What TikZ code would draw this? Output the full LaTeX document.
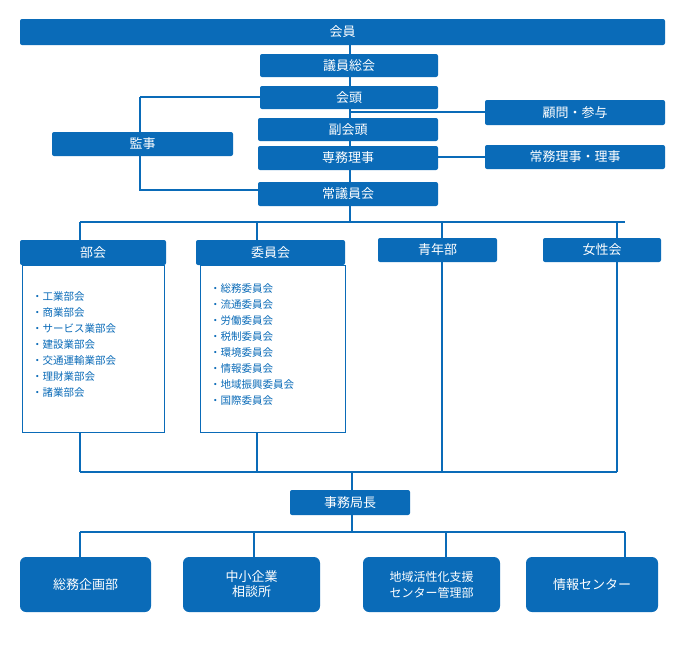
\documentclass[tikz,border=0pt]{standalone}
\usepackage{fontspec}
\setmainfont{Noto Sans CJK JP}
\usetikzlibrary{positioning}
\definecolor{orgblue}{HTML}{0A6BB8}

\begin{document}
\begin{tikzpicture}[x=1pt,y=-1pt,
    box/.style={fill=orgblue,text=white,rounded corners=2pt,inner sep=0pt,font=\fontsize{13}{15}\selectfont,align=center},
    listbox/.style={draw=orgblue,thick,fill=white,inner sep=0pt},
    items/.style={text=orgblue,font=\fontsize{10.5}{16}\selectfont,align=left,anchor=north west,inner sep=0pt},
    link/.style={orgblue,line width=1.5pt}
]
\useasboundingbox (0,0) rectangle (683,648);

% === lines first ===
\coordinate (busTop) at (350,222);
\coordinate (busMid) at (352,472);
\coordinate (busLow) at (352,532);
\draw[link] (350,45) -- (busTop);
\draw[link] (80,222) -- (625,222);
\draw[link] (80,472) -- (617,472);
\draw[link] (busMid) -- (busLow);
\draw[link] (80,532) -- (625,532);
\draw[link] (140,97) -- (140,190) -- (258,190);
\draw[link] (140,97) -- (260,97);
\draw[link] (350,112) -- (485,112);
\draw[link] (438,157) -- (485,157);
\foreach \x in {80,257,442,617} \draw[link] (\x,222) -- (\x,472);
\foreach \x in {80,254,446,625} \draw[link] (\x,532) -- (\x,557);

% === top ===
\node[box,minimum width=645,minimum height=26] (member) at (342.5,32) {会員};
\node[box,minimum width=178,minimum height=23] (assembly) at (349,65.5) {議員総会};
\node[box,minimum width=178,minimum height=23] (chair) at (349,97.5) {会頭};
\node[box,minimum width=180,minimum height=25] (advisor) at (575,112.5) {顧問・参与};
\node[box,minimum width=180,minimum height=23] (vice) at (348,129.5) {副会頭};
\node[box,minimum width=180,minimum height=24] (director) at (348,158) {専務理事};
\node[box,minimum width=180,minimum height=24] (board) at (575,157) {常務理事・理事};
\node[box,minimum width=181,minimum height=24] (auditor) at (142.5,144) {監事};
\node[box,minimum width=180,minimum height=24] (council) at (348,194) {常議員会};

% === sections ===
\node[listbox,minimum width=142,minimum height=167] (bukaiList) at (93,348.5) {};
\node[listbox,minimum width=145,minimum height=167] (iinList) at (272.5,348.5) {};
\node[box,minimum width=146,minimum height=25] (bukai) at (93,252.5) {部会};
\node[box,minimum width=149,minimum height=25] (iin) at (270.5,252.5) {委員会};
\node[box,minimum width=119,minimum height=24] (youth) at (437.5,250) {青年部};
\node[box,minimum width=118,minimum height=24] (women) at (602,250) {女性会};
\node[items] (bukaiItems) at (32,291) {・工業部会\\・商業部会\\・サービス業部会\\・建設業部会\\・交通運輸業部会\\・理財業部会\\・諸業部会};
\node[items] (iinItems) at (210,283) {・総務委員会\\・流通委員会\\・労働委員会\\・税制委員会\\・環境委員会\\・情報委員会\\・地域振興委員会\\・国際委員会};

% === secretariat ===
\node[box,minimum width=120,minimum height=25] (chief) at (350,502.5) {事務局長};
\node[box,rounded corners=6pt,minimum width=131,minimum height=55] (soumu) at (85.5,584.5) {総務企画部};
\node[box,rounded corners=6pt,minimum width=137,minimum height=55] (sme) at (251.5,584.5) {中小企業\\相談所};
\node[box,rounded corners=6pt,minimum width=137,minimum height=55,font=\fontsize{12}{16}\selectfont] (region) at (431.5,584.5) {地域活性化支援\\センター管理部};
\node[box,rounded corners=6pt,minimum width=132,minimum height=55] (info) at (592,584.5) {情報センター};
\end{tikzpicture}
\end{document}
